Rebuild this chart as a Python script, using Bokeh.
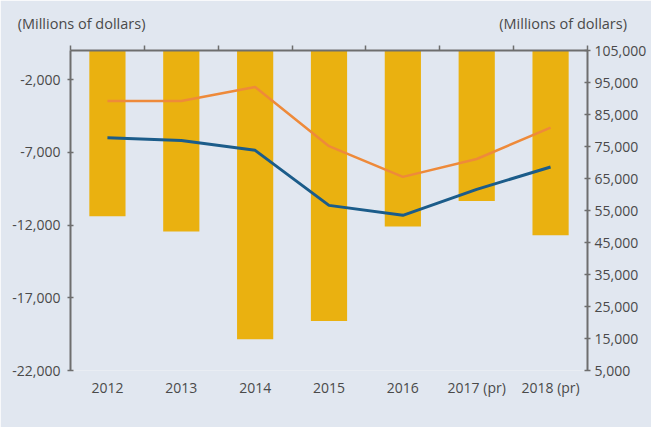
from bokeh.plotting import figure
from bokeh.models import (Range1d, LinearAxis, CategoricalAxis, FixedTicker,
                          Legend, LegendItem, ColumnDataSource, NumeralTickFormatter)
from bokeh.embed import file_html
from bokeh.resources import INLINE

years = ["2012", "2013", "2014", "2015", "2016", "2017 (pr)", "2018 (pr)"]
current_account = [-11400, -12450, -19850, -18600, -12100, -10350, -12700]
revenue = [77700, 76900, 73800, 56600, 53500, 61600, 68600]
expenditure = [89200, 89200, 93600, 75100, 65500, 71100, 80900]
left_ticks = [-22000, -17000, -12000, -7000, -2000]
right_ticks = [5000, 15000, 25000, 35000, 45000, 55000, 65000, 75000, 85000, 95000, 105000]
unit_label = "(Millions of dollars)"

BG = "#E1E7F0"
TXT = "#4A4A4A"
AX = "#6E6E6E"
FONT = "Open Sans"

p = figure(x_range=years, y_range=Range1d(-22000, 0),
           frame_width=517, frame_height=320,
           min_border_left=70, min_border_right=64, min_border_top=50, min_border_bottom=57,
           output_backend="svg", toolbar_location=None,
           background_fill_color=BG, border_fill_color=BG, outline_line_color=None,
           x_axis_location=None, y_axis_location=None)
p.grid.visible = False
p.extra_y_ranges = {"right": Range1d(5000, 105000)}

src = ColumnDataSource(dict(x=years, ca=current_account, rev=revenue, exp=expenditure))
bars = p.vbar(x="x", top=0, bottom="ca", width=0.49, source=src,
              fill_color="#EAB110", line_color=None)
rev = p.line(x="x", y="rev", source=src, y_range_name="right",
             line_color="#1B5C8A", line_width=3)
exp = p.line(x="x", y="exp", source=src, y_range_name="right",
             line_color="#EE8A3A", line_width=2.5)

def style(ax):
    ax.axis_line_color = AX
    ax.axis_line_width = 2
    ax.major_tick_line_color = AX
    ax.major_tick_line_width = 1.5
    ax.minor_tick_line_color = None
    ax.major_label_text_color = TXT
    ax.major_label_text_font = FONT
    ax.major_label_text_font_size = "14px"

yl = LinearAxis(ticker=FixedTicker(ticks=left_ticks),
                formatter=NumeralTickFormatter(format="0,0"))
style(yl)
yl.major_tick_in = 3
yl.major_tick_out = 3
yl.major_label_standoff = 7
p.add_layout(yl, "left")

yr = LinearAxis(y_range_name="right", ticker=FixedTicker(ticks=right_ticks),
                formatter=NumeralTickFormatter(format="0,0"))
style(yr)
yr.major_tick_in = 3
yr.major_tick_out = 3
yr.major_label_standoff = 4
p.add_layout(yr, "right")

# category boundaries on the factor range (synthetic coordinates 0..n)
xt = LinearAxis(ticker=FixedTicker(ticks=list(range(0, len(years) + 1))))
style(xt)
xt.major_tick_in = 0
xt.major_tick_out = 5
xt.major_label_text_color = None
p.add_layout(xt, "above")

# unit captions above the left and right scales
unit_pos = [0.15, 6.67]
xu = LinearAxis(ticker=FixedTicker(ticks=unit_pos),
                major_label_overrides={unit_pos[0]: unit_label, unit_pos[1]: unit_label})
style(xu)
xu.axis_line_color = None
xu.major_tick_line_color = None
xu.major_tick_in = 0
xu.major_tick_out = 0
xu.major_label_standoff = 13
xu.major_label_text_font_size = "14.5px"
p.add_layout(xu, "above")

xb = CategoricalAxis()
style(xb)
xb.axis_line_color = None
xb.major_tick_line_color = None
xb.major_label_standoff = 1
p.add_layout(xb, "below")

legend = Legend(items=[LegendItem(label="Current account (BP)", renderers=[bars]),
                       LegendItem(label="Revenue (right scale)", renderers=[rev]),
                       LegendItem(label="Expenditure (right scale)", renderers=[exp])],
                orientation="horizontal", location="center",
                background_fill_alpha=0, border_line_color=None, padding=2, margin=6,
                spacing=25, glyph_width=20, glyph_height=15, label_height=15, label_standoff=5,
                label_text_font=FONT, label_text_font_size="14px", label_text_color=TXT)
p.add_layout(legend, "below")

html = file_html(p, INLINE)
html = html.replace("<body>", '<body style="margin:0;overflow:hidden;background:%s">' % BG, 1)
open("out.html", "w").write(html)
